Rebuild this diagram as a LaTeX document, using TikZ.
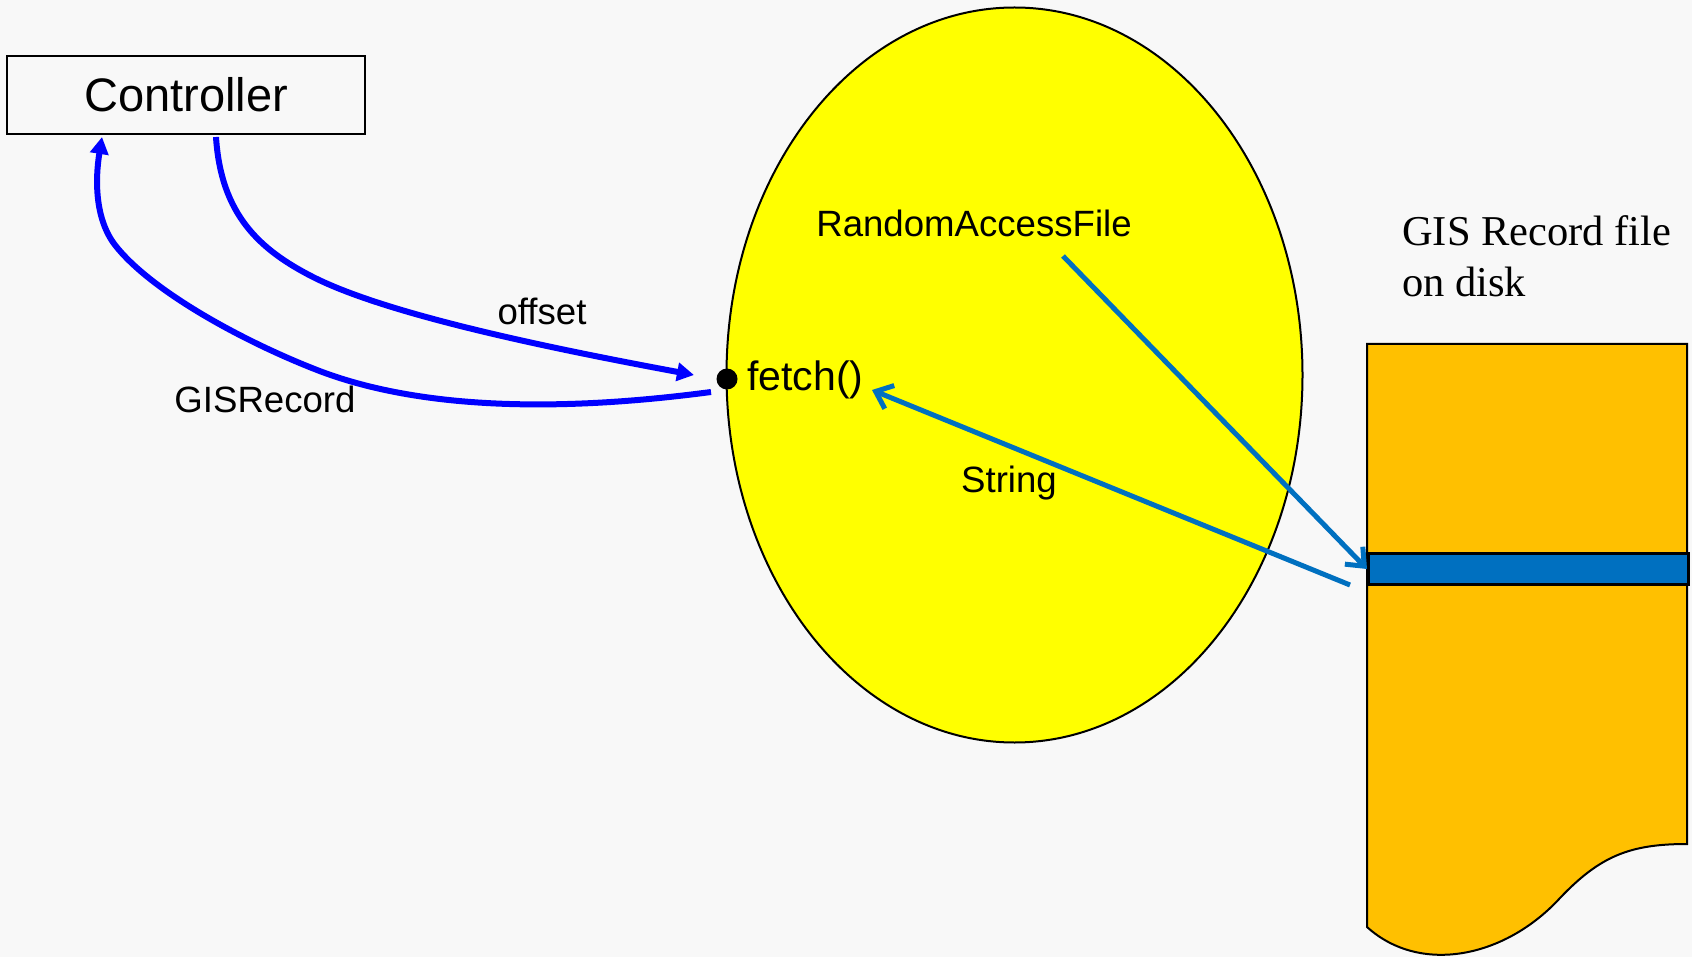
\documentclass[tikz,border=0pt]{standalone}
\usepackage{fontspec}
\setmainfont{Liberation Sans}
\newfontfamily\serifgis{Liberation Serif}
\usetikzlibrary{shapes.geometric,arrows.meta}
\definecolor{bgc}{HTML}{F8F8F8}
\definecolor{diskc}{HTML}{FFC000}
\definecolor{bandc}{HTML}{0070C0}
\definecolor{linkc}{HTML}{0000FF}
\definecolor{ellc}{HTML}{FFFF00}
\begin{document}
\begin{tikzpicture}[x=1pt,y=-1pt,
  lbl/.style={font=\fontsize{36.6}{44}\selectfont, inner sep=0pt, anchor=base},
  serlbl/.style={font=\serifgis\fontsize{42.5}{51}\selectfont, inner sep=0pt, anchor=base west},
  callarrow/.style={draw=linkc, line width=6pt, -{Triangle[length=17pt,width=18pt]}},
  fileflow/.style={draw=bandc, line width=5pt, -{Straight Barb[length=15pt,width=25pt]}}]
\fill[bgc] (0,0) rectangle (1692,957);
\useasboundingbox (0,0) rectangle (1692,957);

% RandomAccessFile ellipse
\node[ellipse, draw=black, line width=2pt, fill=ellc, minimum width=576pt, minimum height=735pt, inner sep=0pt] (raf) at (1014.5,375) {};

% disk file
\draw[fill=diskc, line width=2pt] (1367,344) -- (1687,344) -- (1687,844)
  .. controls (1630,844) and (1600,856) .. (1560,898)
  .. controls (1505,958) and (1420,975) .. (1367,927) -- cycle;
\node[draw=black, fill=bandc, line width=3pt, minimum width=320pt, minimum height=31pt, inner sep=0pt, anchor=north west] (band) at (1367,552) {};

% Controller
\node[draw=black, line width=2.4pt, minimum width=358pt, minimum height=78pt, inner sep=0pt, font=\fontsize{47}{56}\selectfont] (ctrl) at (186,95) {Controller};

% fetch
\node[circle, fill=black, minimum size=21pt, inner sep=0pt] (dot) at (727,379) {};
\node[font=\fontsize{41}{49}\selectfont, inner sep=0pt, anchor=base west] (fetch) at (747,391) {fetch()};

% labels
\node[lbl] (lraf) at (974,237) {RandomAccessFile};
\node[lbl] (loff) at (542,325) {offset};
\node[lbl] (lgis) at (265,413) {GISRecord};
\node[lbl] (lstr) at (1009,492) {String};
\node[serlbl] (ldisk1) at (1402,246) {GIS Record file};
\node[serlbl] (ldisk2) at (1402,297) {on disk};

% connector ends
\coordinate (offS) at (216,137);
\coordinate (offE) at (694,375);
\coordinate (gisS) at (711,392);
\coordinate (gisE) at (102,137);
\coordinate (rafS) at (1063,256);
\coordinate (strS) at (1350,585);
\coordinate (strE) at (872,390);

% connectors
\draw[callarrow] (offS) .. controls (221,215) and (260,250) .. (313,277)
  .. controls (390,316) and (560,350) .. (offE);
\draw[callarrow] (gisS) .. controls (560,412) and (420,410) .. (317,370)
  .. controls (240,340) and (150,290) .. (115,245)
  .. controls (95,219) and (95,180) .. (gisE);
\draw[fileflow] (rafS) -- (band.west);
\draw[fileflow] (strS) -- (strE);
\end{tikzpicture}
\end{document}
